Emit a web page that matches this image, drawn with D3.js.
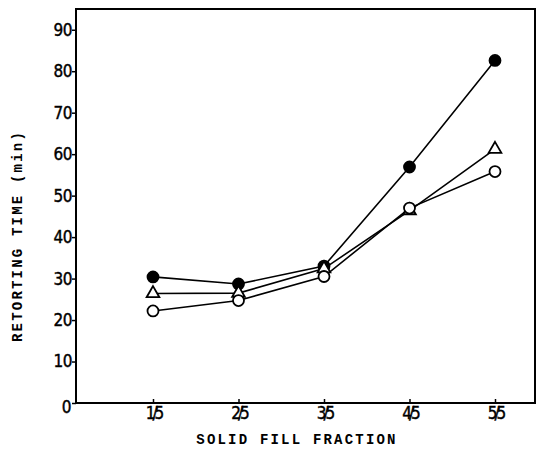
<!DOCTYPE html>
<html>
<head>
<meta charset="utf-8">
<script src="https://cdn.jsdelivr.net/npm/d3@7"></script>
<style>
  body { margin: 0; background: #fff; }
  svg { display: block; }
</style>
</head>
<body>
<div id="chart"></div>
<script>
// chart data
var fractions = [0.2, 0.4, 0.6, 0.8, 1.0];
var tickLabels = ["1/5", "2/5", "3/5", "4/5", "5/5"];
var yTicks = [0, 10, 20, 30, 40, 50, 60, 70, 80, 90];
var filledCircle = [30.4, 28.7, 33.0, 56.9, 82.6];
var triangle = [26.4, 26.5, 32.4, 46.4, 61.2];
var openCircle = [22.2, 24.7, 30.5, 47.0, 55.8];

var svgWidth = 545;
var svgHeight = 449;
var margins = { top: 9, right: 10, bottom: 46, left: 76 };
var chartWidth = svgWidth - margins.left - margins.right;
var chartHeight = svgHeight - margins.top - margins.bottom;

var svg = d3.select("#chart").append("svg")
    .attr("width", svgWidth)
    .attr("height", svgHeight);

var chartGroup = svg.append("g")
    .attr("transform", `translate(${margins.left}, ${margins.top})`);

// scales
var xscale = d3.scaleLinear().domain([0.2, 1.0]).range([77, 419]);
var yscale = d3.scaleLinear().domain([0, 95]).range([chartHeight, 0]);

// frame
chartGroup.append("rect")
    .attr("x", 0).attr("y", 0)
    .attr("width", chartWidth).attr("height", chartHeight)
    .attr("fill", "none")
    .attr("stroke", "#000")
    .attr("stroke-width", 2);

// y axis ticks and labels
var yAxis = d3.axisLeft(yscale).tickValues(yTicks).tickSize(4).tickPadding(0);
var yg = chartGroup.append("g").call(yAxis);
yg.select(".domain").remove();
yg.selectAll("line").attr("stroke-width", 1.5);
yg.selectAll("text")
    .style("font-family", "'DejaVu Sans Condensed', 'DejaVu Sans', sans-serif")
    .style("font-size", "17px")
    .style("letter-spacing", "-0.5px")
    .attr("fill", "#000")
    .attr("stroke", "#000")
    .attr("stroke-width", 0.4);
yg.selectAll(".tick").filter(d => d === 0).select("text")
    .attr("x", -5).attr("dy", "0.55em");

// x axis ticks (inward) and labels
var xAxis = d3.axisBottom(xscale).tickValues(fractions)
    .tickFormat((d, i) => tickLabels[i]).tickSizeInner(-4).tickSizeOuter(0).tickPadding(4);
var xg = chartGroup.append("g").attr("transform", `translate(0, ${chartHeight})`).call(xAxis);
xg.select(".domain").remove();
xg.selectAll("line").attr("stroke-width", 1.5);
xg.selectAll("text")
    .style("font-family", "'DejaVu Sans Condensed', 'DejaVu Sans', sans-serif")
    .style("font-size", "17px")
    .style("letter-spacing", "-3px")
    .attr("fill", "#000")
    .attr("stroke", "#000")
    .attr("stroke-width", 0.4);

// lines
var series = [
  { values: filledCircle, kind: "filled" },
  { values: triangle, kind: "triangle" },
  { values: openCircle, kind: "open" }
];
var line = d3.line()
    .x((d, i) => xscale(fractions[i]))
    .y(d => yscale(d));

series.forEach(function(s) {
  chartGroup.append("path")
      .datum(s.values)
      .attr("d", line)
      .attr("fill", "none")
      .attr("stroke", "#000")
      .attr("stroke-width", 1.6);
});

// markers
series.forEach(function(s) {
  var g = chartGroup.append("g");
  if (s.kind === "triangle") {
    g.selectAll("path").data(s.values).enter().append("path")
      .attr("d", d3.symbol().type(d3.symbolTriangle).size(70))
      .attr("transform", (d, i) => `translate(${xscale(fractions[i])}, ${yscale(d)})`)
      .attr("fill", "#fff")
      .attr("stroke", "#000")
      .attr("stroke-width", 1.8);
  } else {
    g.selectAll("circle").data(s.values).enter().append("circle")
      .attr("cx", (d, i) => xscale(fractions[i]))
      .attr("cy", d => yscale(d))
      .attr("r", 5.5)
      .attr("fill", s.kind === "filled" ? "#000" : "#fff")
      .attr("stroke", "#000")
      .attr("stroke-width", 1.8);
  }
});

// axis titles
svg.append("text")
    .attr("transform", "translate(22, 236) rotate(-90)")
    .attr("text-anchor", "middle")
    .style("font-family", "'Liberation Mono', 'DejaVu Sans Mono', monospace")
    .style("font-size", "14px")
    .style("font-weight", "bold")
    .style("letter-spacing", "2.2px")
    .text("RETORTING TIME (min)");

svg.append("text")
    .attr("x", 297)
    .attr("y", 444)
    .attr("text-anchor", "middle")
    .style("font-family", "'Liberation Mono', 'DejaVu Sans Mono', monospace")
    .style("font-size", "14px")
    .style("font-weight", "bold")
    .style("letter-spacing", "2.2px")
    .text("SOLID FILL FRACTION");
</script>
</body>
</html>
